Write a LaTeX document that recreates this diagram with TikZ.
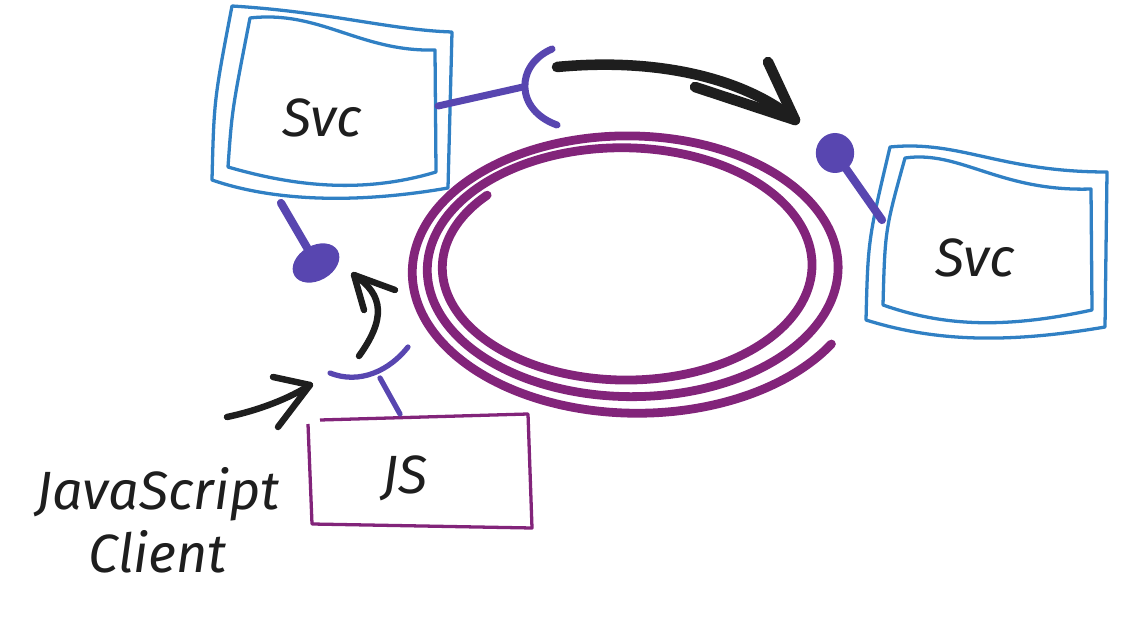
\documentclass[tikz,border=0pt]{standalone}
\usepackage{fontspec}
\setmainfont{Fira Sans}
\usepackage{xcolor}
\usepackage{tikz}
\usetikzlibrary{shapes.geometric, positioning}
\definecolor{svcblue}{RGB}{48,128,196}
\definecolor{jspurple}{RGB}{130,36,122}
\definecolor{lolly}{RGB}{88,70,176}
\definecolor{ink}{RGB}{30,30,30}
\tikzstyle{txt} = [font=\fontsize{46}{54}\selectfont\itshape, text=ink, align=center]
\tikzstyle{svcline} = [draw=svcblue, line width=2.8pt, line join=round]
\tikzstyle{jsline} = [draw=jspurple, line width=2.8pt, line join=round]
\tikzstyle{stem} = [draw=lolly, line width=7pt, line cap=round]
\tikzstyle{socket} = [draw=lolly, line width=6pt, line cap=round]
\tikzstyle{ball} = [fill=lolly, ellipse, inner sep=0pt]
\tikzstyle{harrow} = [draw=ink, line width=9pt, line cap=round, line join=round]
\tikzstyle{sarrow} = [draw=ink, line width=5.5pt, line cap=round, line join=round]

\begin{document}
\begin{tikzpicture}[x=0.03cm, y=-0.03cm]
\useasboundingbox (0,0) rectangle (1121,627);

% boxes
\node (svcA) [txt] at (322,118) {Svc};
\node (svcB) [txt] at (975,258) {Svc};
\node (js) [txt] at (405,478) {JS};
\node (client) [txt] at (158,520) {JavaScript\\Client};

\draw [svcline] (232,6) .. controls (330,12) and (390,30) .. (452,32) -- (448,188)
  .. controls (350,205) and (270,200) .. (212,180) .. controls (214,100) .. cycle;
\draw [svcline] (250,18) .. controls (320,10) and (360,52) .. (435,50) -- (436,172)
  .. controls (360,195) and (290,185) .. (228,167) .. controls (232,110) .. cycle;

\draw [svcline] (890,147) .. controls (960,140) and (1000,172) .. (1107,172) -- (1105,327)
  .. controls (1000,345) and (930,340) .. (866,320) .. controls (868,240) .. cycle;
\draw [svcline] (905,158) .. controls (960,150) and (1000,192) .. (1091,189) -- (1092,310)
  .. controls (1000,330) and (940,325) .. (883,305) .. controls (885,230) .. cycle;

\draw [jsline] (320,420) -- (528,414) -- (532,528) -- (312,524) -- (308,424);

% ring
\draw [draw=jspurple, line width=7.5pt, line cap=round]
  plot[smooth, domain=221:-690, samples=220]
  ({620+14*((221-\x)/911)+(176+52*((221-\x)/911))*cos(\x)},
   {266+6*((221-\x)/911)+(108+36*((221-\x)/911))*sin(\x)});

% lollipops
\coordinate (stemA) at (281,203);
\coordinate (stemB) at (882,220);
\node (ballA) [ball, minimum width=1.5cm, minimum height=1.05cm, rotate=30] at (316,263) {};
\node (ballB) [ball, minimum width=1.15cm, minimum height=1.2cm] at (835,153) {};
\draw [stem] (stemA) -- (ballA.center);
\draw [stem] (stemB) -- (ballB.center);

% sockets
\coordinate (plugA) at (438,106);
\coordinate (sockA) at (523,87);
\draw [socket] (plugA) -- (sockA);
\draw [socket] (552,49) .. controls (515,65) and (515,110) .. (557,125);

\coordinate (plugJS) at (400,414);
\coordinate (sockJS) at (380,378);
\draw [socket, line width=4.5pt] (plugJS) -- (sockJS);
\draw [socket, line width=4.5pt] (330,373) .. controls (360,385) and (390,370) .. (408,347);

% arrows
\coordinate (bigStart) at (557,67);
\coordinate (bigTip) at (795,120);
\draw [harrow] (bigStart) .. controls (650,58) and (740,75) .. (bigTip);
\draw [harrow] (768,62) -- (bigTip) -- (695,87);

\coordinate (upStart) at (359,356);
\coordinate (upTip) at (354,275);
\draw [sarrow] (upStart) .. controls (385,320) and (385,295) .. (upTip);
\draw [sarrow] (364,310) -- (upTip) -- (395,290);

\coordinate (cliStart) at (227,417);
\coordinate (cliTip) at (310,385);
\draw [sarrow] (cliStart) .. controls (260,410) and (290,398) .. (cliTip);
\draw [sarrow] (273,377) -- (cliTip) -- (278,427);
\end{tikzpicture}
\end{document}
